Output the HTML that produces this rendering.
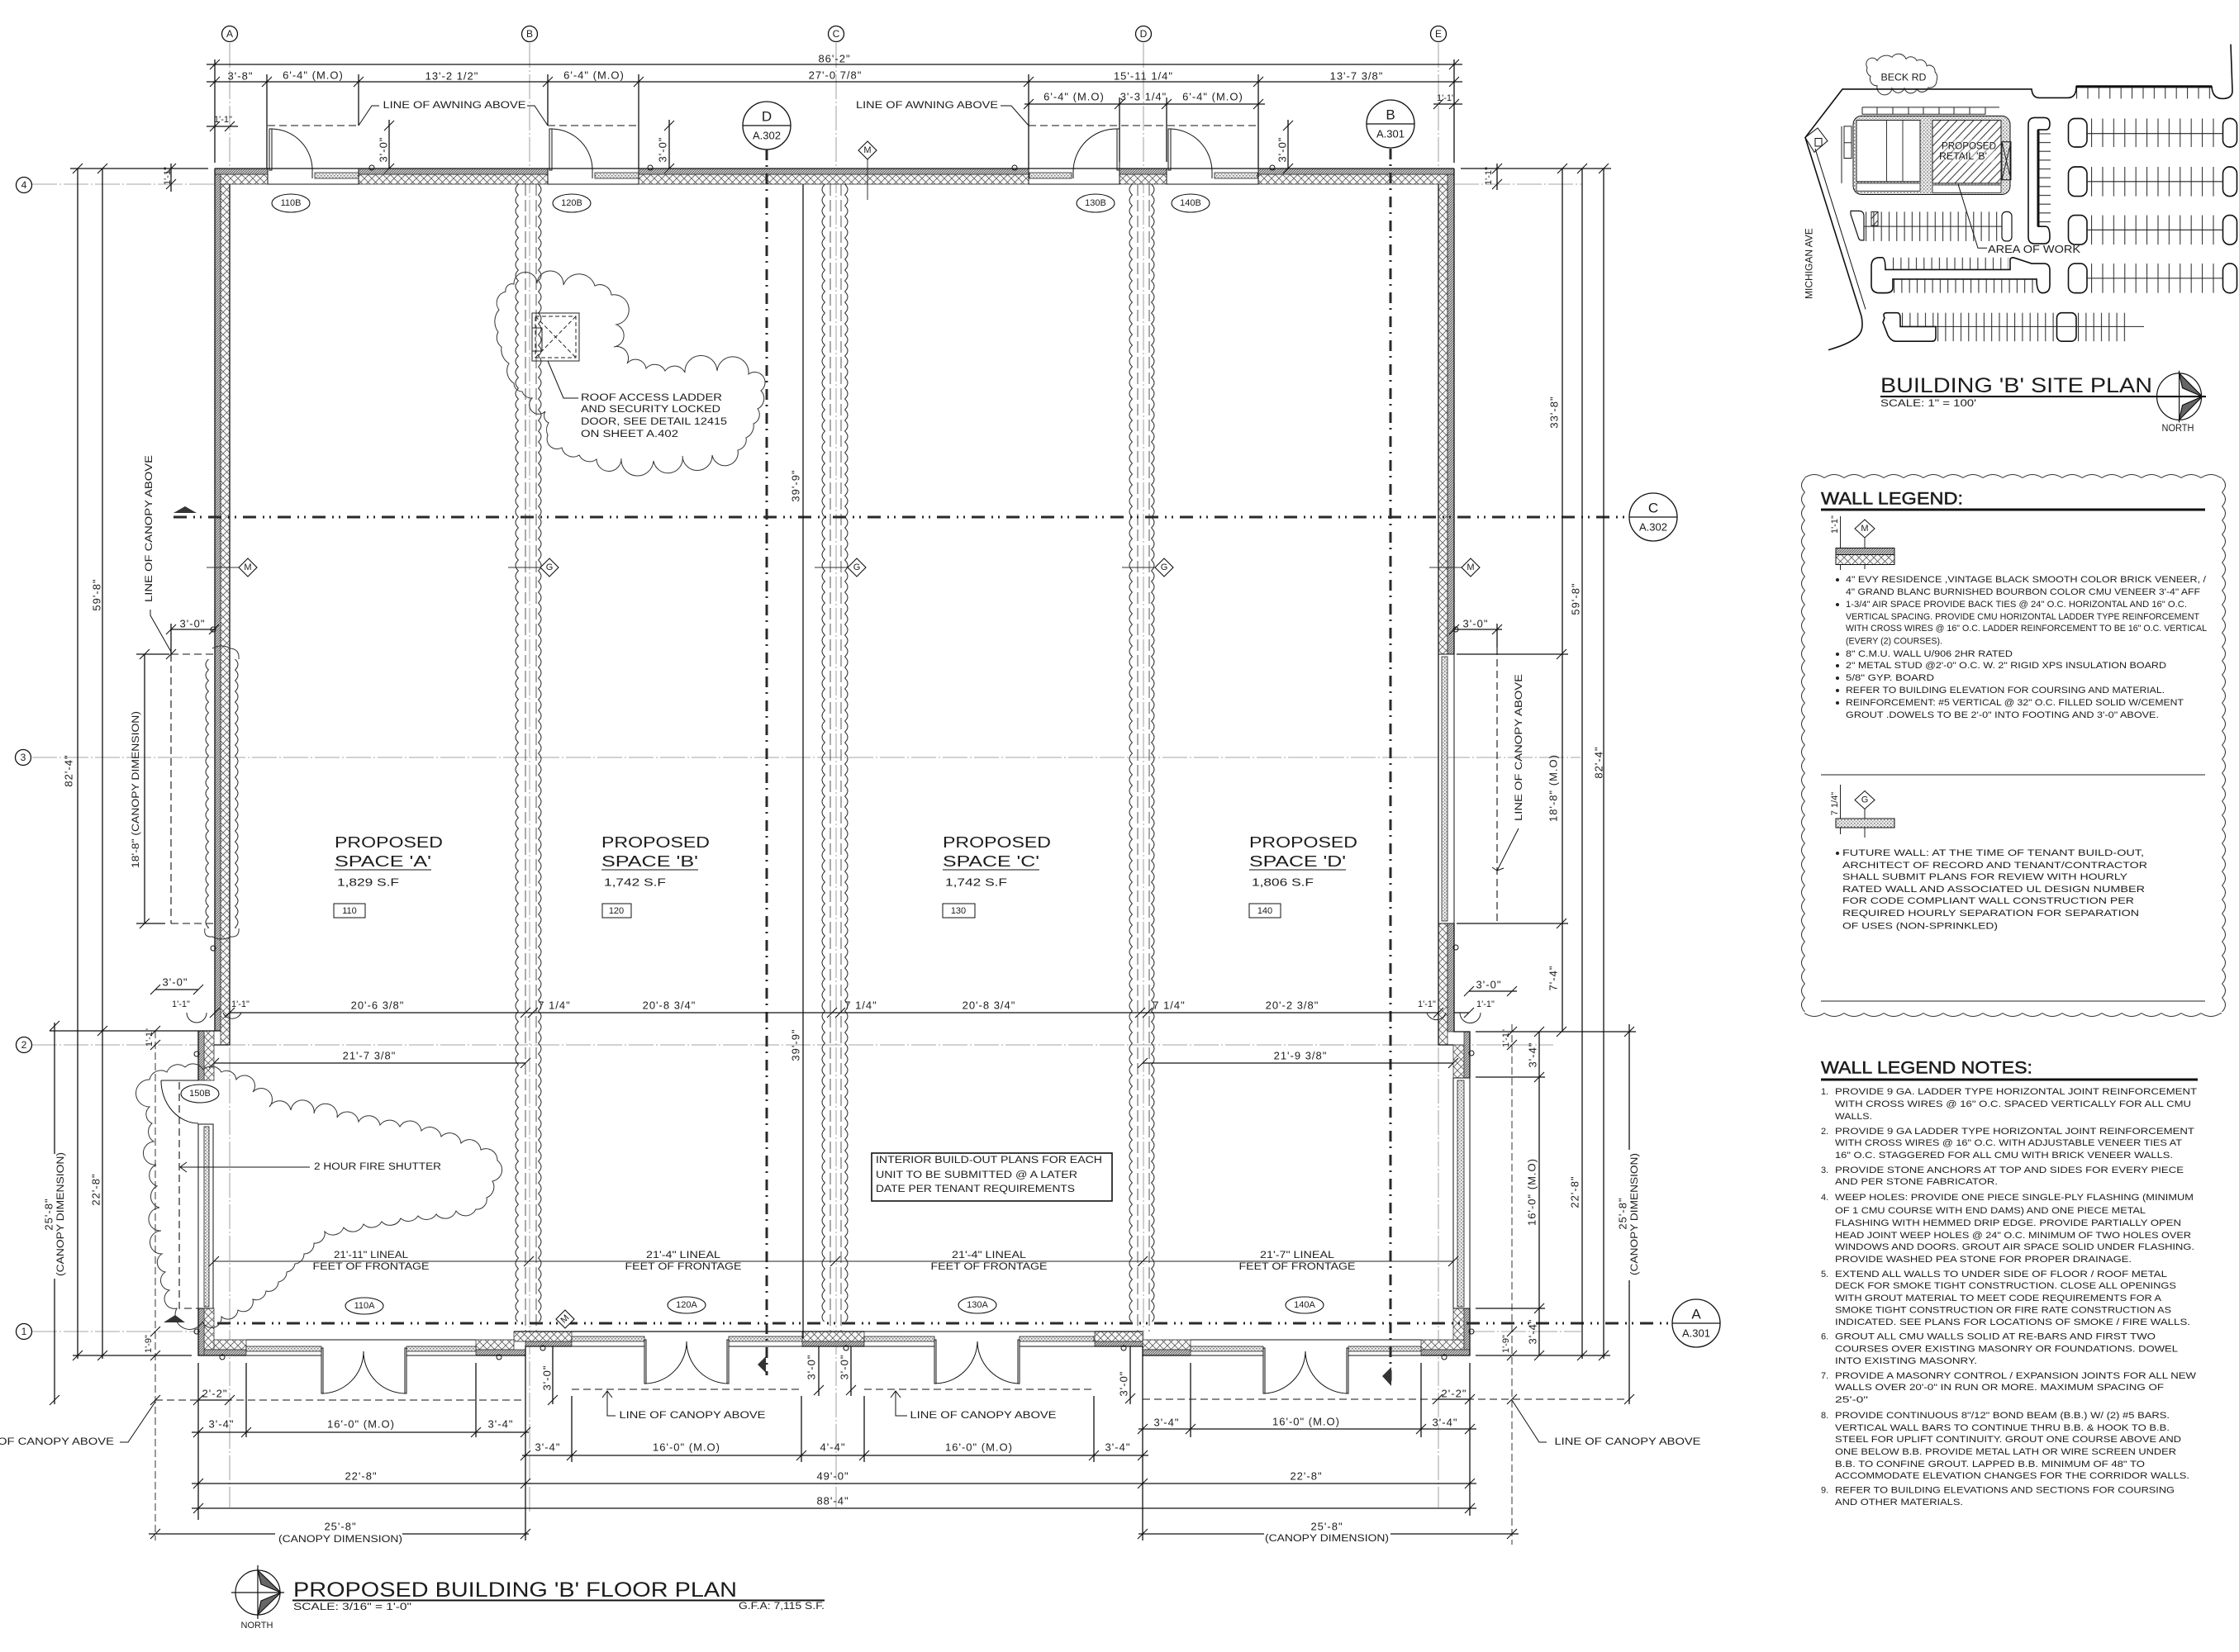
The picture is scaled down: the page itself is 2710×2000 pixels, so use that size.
<!DOCTYPE html>
<html lang="en"><head><meta charset="utf-8"><title>Proposed Building B Floor Plan</title>
<style>
html,body{margin:0;padding:0;background:#fff}
svg{display:block}
text{font-family:"Liberation Sans",sans-serif;fill:#1c1c1c;dominant-baseline:central}
.d{font-size:13px;letter-spacing:1px;text-anchor:middle}
.l{font-size:11.5px;text-anchor:middle}
.s{font-size:11.5px;text-anchor:start}
.g{font-size:11px;text-anchor:middle}
.n{font-size:11px;text-anchor:start}
.b{font-size:12px;text-anchor:middle}
.t{font-size:21px;stroke:#1c1c1c;stroke-width:.5}
.sp{font-size:18px;text-anchor:start}
</style></head><body>
<svg xmlns="http://www.w3.org/2000/svg" width="2710" height="2000" viewBox="0 0 2710 2000">
<defs>
<pattern id="cmu" width="9" height="9" patternUnits="userSpaceOnUse"><rect width="9" height="9" fill="#f6f6f6"/><path d="M0 0L9 9M9 0L0 9" stroke="#444" stroke-width=".7"/></pattern>
<pattern id="brk" width="3" height="3" patternUnits="userSpaceOnUse"><rect width="3" height="3" fill="#c8c8c8"/><path d="M0 3L3 0" stroke="#444" stroke-width=".7"/></pattern>
<pattern id="stp" width="4" height="4" patternUnits="userSpaceOnUse"><rect width="4" height="4" fill="#ececec"/><rect x="0" y="0" width="1.5" height="1.5" fill="#777"/><rect x="2" y="2" width="1.5" height="1.5" fill="#999"/></pattern>
<pattern id="hat" width="10" height="10" patternUnits="userSpaceOnUse"><path d="M0 10L10 0M-2 2L2 -2M8 12L12 8" stroke="#333" stroke-width="1"/></pattern>
<pattern id="sl" width="6" height="13" patternUnits="userSpaceOnUse"><path d="M5.5 0Q-1.5 6.5 5.5 13" fill="none" stroke="#222" stroke-width="1"/></pattern>
<pattern id="sr" width="6" height="13" patternUnits="userSpaceOnUse"><path d="M.5 0Q7.5 6.5 .5 13" fill="none" stroke="#222" stroke-width="1"/></pattern>
<pattern id="bl" width="7" height="17" patternUnits="userSpaceOnUse"><path d="M6.5 0Q-1.5 8.5 6.5 17" fill="none" stroke="#333" stroke-width="1"/></pattern>
<pattern id="br" width="7" height="17" patternUnits="userSpaceOnUse"><path d="M.5 0Q8.5 8.5 .5 17" fill="none" stroke="#333" stroke-width="1"/></pattern>
<pattern id="bt" width="24" height="6" patternUnits="userSpaceOnUse"><path d="M0 5.5Q12 -2.5 24 5.5" fill="none" stroke="#333" stroke-width="1"/></pattern>
<pattern id="bb" width="24" height="6" patternUnits="userSpaceOnUse"><path d="M0 .5Q12 8.5 24 .5" fill="none" stroke="#333" stroke-width="1"/></pattern>
<pattern id="v13" width="13.4" height="10" patternUnits="userSpaceOnUse"><path d="M.6 0V10" stroke="#222" stroke-width="1"/></pattern>
<pattern id="v9" width="9.3" height="10" patternUnits="userSpaceOnUse"><path d="M.6 0V10" stroke="#222" stroke-width="1"/></pattern>
<pattern id="h10" width="10" height="10.2" patternUnits="userSpaceOnUse"><path d="M0 .6H10" stroke="#222" stroke-width="1"/></pattern>
</defs>
<rect width="2710" height="2000" fill="#fff"/>

<!-- grid lines -->
<g fill="none" stroke="#888" stroke-width=".8" stroke-dasharray="30 3 2 3">
<path d="M278 52V1825M641 52V1830M1012 52V1825M1384 52V1640M1741 52V1825"/>
<path d="M39 223H260M1760 223H1915M39 917H1913M39 1265H1880M39 1612H240M1779 1612H1914"/>
</g>

<!-- walls -->
<path fill="url(#cmu)" stroke="#222" stroke-width=".7" d="M260 211H324V223H260ZM434 211H663V223H434ZM773 211H1245V223H773ZM1355 211H1412V223H1355ZM1523 211H1760V223H1523ZM267 223H278V1265H267ZM1741 223H1752V792H1741ZM1741 1118H1752V1265H1741ZM247 1248H259V1308H247ZM247 1584H259V1634H247ZM259 1622H298V1634H259ZM576 1622H622V1634H576ZM622 1612H692V1624H622ZM971 1612H1046V1624H971ZM1325 1612H1383V1624H1325ZM1383 1622H1441V1634H1383ZM1720 1622H1772V1634H1720ZM1759 1584H1772V1622H1759ZM1759 1265H1772V1305H1759Z"/>
<path fill="url(#brk)" stroke="#222" stroke-width=".7" d="M260 204H324V211H260ZM434 204H663V211H434ZM773 204H1245V211H773ZM1355 204H1412V211H1355ZM1523 204H1760V211H1523ZM260 211H267V1248H260ZM1752 211H1760V792H1752ZM1752 1118H1760V1249H1752ZM240 1248H247V1308H240ZM240 1584H247V1641H240ZM247 1634H298V1641H247ZM576 1634H636V1641H576ZM636 1624H692V1630H636ZM971 1624H1046V1630H971ZM1325 1624H1383V1630H1325ZM1383 1634H1441V1641H1383ZM1720 1634H1779V1641H1720ZM1772 1584H1779V1634H1772ZM1772 1249H1779V1305H1772Z"/>
<path fill="none" stroke="#111" stroke-width="1.3" d="M260 204H1760M260 204V1248M1760 204V792M1760 1118V1249H1779V1305M240 1248H267M240 1248V1308M240 1584V1641H298M576 1641H636V1630H692M622 1612H1046M1046 1630H971M1325 1630H1383V1641H1441M1325 1612H1383M1720 1641H1779V1584M278 223V1265H259M1741 223V1265H1759"/>

<!-- storefronts -->
<g fill="url(#stp)" stroke="#222" stroke-width=".8">
<rect x="381" y="209" width="53" height="7"/><rect x="720" y="209" width="53" height="7"/><rect x="1246" y="209" width="51" height="7"/><rect x="1470" y="209" width="52" height="7"/>
<rect x="1745" y="795" width="7" height="320"/><rect x="247" y="1364" width="6" height="218"/><rect x="1764" y="1308" width="8" height="274"/>
<rect x="298" y="1630" width="91" height="6"/><rect x="492" y="1630" width="84" height="6"/>
<rect x="692" y="1618" width="88" height="6"/><rect x="882" y="1618" width="89" height="6"/>
<rect x="1046" y="1618" width="85" height="6"/><rect x="1234" y="1618" width="90" height="6"/>
<rect x="1441" y="1630" width="88" height="6"/><rect x="1632" y="1630" width="88" height="6"/>
</g>
<g fill="none" stroke="#111" stroke-width="1">
<path d="M324 204H434V223H324ZM663 204H773V223H663ZM1245 204H1355V223H1245ZM1412 204H1523V223H1412ZM1741 792H1760V1118H1741ZM240 1361H258V1584H240ZM1759 1305H1779V1584H1759Z"/>
<path d="M298 1622H576M298 1641H389M492 1641H576M692 1612H780M882 1612H971M692 1630H780M882 1630H971M1046 1612H1325M1046 1630H1131M1234 1630H1325M1441 1622H1720M1441 1641H1529M1632 1641H1720"/>
<!-- single doors -->
<path d="M326 156H329V206H326ZM665 156H668V206H665ZM1352 156H1355V206H1352ZM1414 156H1417V206H1414Z"/>
<path d="M329 156A50 50 0 0 1 378 208V216M668 156A50 50 0 0 1 717 208V216M1352 156A52 52 0 0 0 1299 208V216M1417 156A52 52 0 0 1 1467 208V216"/>
<!-- double doors -->
<path d="M389 1632H391V1687H389ZM492 1632H490V1687H492ZM389 1687A51 51 0 0 0 440 1636M492 1687A51 51 0 0 1 440 1636"/>
<path d="M780 1622H782V1675H780ZM882 1622H880V1675H882ZM780 1675A51 51 0 0 0 831 1624M882 1675A51 51 0 0 1 831 1624"/>
<path d="M1131 1622H1133V1675H1131ZM1234 1622H1232V1675H1234ZM1131 1675A52 52 0 0 0 1183 1624M1234 1675A52 52 0 0 1 1183 1624"/>
<path d="M1529 1632H1531V1687H1529ZM1632 1632H1630V1687H1632ZM1529 1687A52 52 0 0 0 1580 1636M1632 1687A52 52 0 0 1 1580 1636"/>
<!-- shutter door -->
<path d="M195 1308H240M195 1308A46 52 0 0 0 240 1360"/>
<circle cx="450" cy="203" r="3"/><circle cx="787" cy="203" r="3"/><circle cx="1228" cy="203" r="3"/><circle cx="1540" cy="203" r="3"/><circle cx="238" cy="1276" r="3"/><circle cx="238" cy="1612" r="3"/><circle cx="269" cy="1643" r="3"/><circle cx="604" cy="1643" r="3"/><circle cx="657" cy="1632" r="3"/><circle cx="1024" cy="1632" r="3"/><circle cx="1360" cy="1632" r="3"/><circle cx="1748" cy="1643" r="3"/><circle cx="1781" cy="1275" r="3"/><circle cx="1781" cy="1612" r="3"/><circle cx="258" cy="762" r="3"/><circle cx="258" cy="1148" r="3"/><circle cx="1762" cy="762" r="3"/><circle cx="1762" cy="1147" r="3"/>
</g>

<!-- interior scalloped walls -->
<g transform="translate(622,223)"><rect width="6" height="1377" fill="url(#sl)"/></g>
<g transform="translate(651,223)"><rect width="6" height="1377" fill="url(#sr)"/></g>
<g transform="translate(993,223)"><rect width="6" height="1377" fill="url(#sl)"/></g>
<g transform="translate(1022,223)"><rect width="6" height="1377" fill="url(#sr)"/></g>
<g transform="translate(1365,223)"><rect width="6" height="1377" fill="url(#sl)"/></g>
<g transform="translate(1393,223)"><rect width="6" height="1377" fill="url(#sr)"/></g>
<path fill="none" stroke="#444" stroke-width=".9" stroke-dasharray="14 5" d="M636 223V1612M649 223V1612M1005 223V1612M1018 223V1612M1377 223V1612M1391 223V1612"/>

<!-- section lines -->
<g fill="none" stroke="#2a2a2a" stroke-width="3">
<path stroke-dasharray="13 6 2 8" d="M928 181V1665M1683 180V1678"/>
<path stroke-dasharray="16 8 2 6 2 8" d="M210 626H1972M263 1602H2024"/>
</g>
<path fill="#333" d="M224 613L238 621H210ZM198 1601L212 1592L224 1601ZM917 1652L927 1642V1662ZM1673 1666L1684 1655V1678Z"/>

<!-- dimension lines -->
<g fill="none" stroke="#111" stroke-width="1.3">
<path d="M250 78H1770M250 99H1770M1240 126H1531M1735 126H1770M250 153H288"/>
<path d="M260 72V197M323 90V204M434 90V152M663 90V152M773 90V204M1245 90V204M1355 118V196M1412 118V196M1523 90V204M1760 72V197"/>
<path d="M471 145V204M810 145V204M1559 145V204"/>
<path d="M85 204H252M94 204V1645M124 204V1645M207 198V232"/>
<path d="M1768 204H1950M1891 204V1249M1915 204V1645M1941 204V1645M1812 198V230"/>
<path d="M972 223V1620M278 1226H1741M1778 1226H1760"/>
<path d="M259 1287H636M1383 1287H1759"/>
<path d="M188 1198H240M60 1248H240M66 1238V1397M66 1548V1700M88 1641H232M1786 1249H1980M1972 1240V1392M1972 1550V1700M1863 1249V1641M1786 1641H1949M1778 1200H1836M1786 1304H1870M1786 1584H1870"/>
<path d="M232 1734H640M632 1762H1390M1378 1730H1787M232 1796H1787M232 1826H1787M180 1857H333M487 1857H640M1378 1857H1530M1683 1857H1838"/>
<path d="M240 1650V1840M298 1650V1740M576 1650V1740M636 1641V1865M692 1690V1770M970 1690V1770M1046 1690V1770M1324 1690V1770M1383 1641V1865M1441 1650V1740M1720 1650V1740M1779 1650V1835"/>
<path d="M207 762H259M207 755V792M175 792V1118M165 792H205M165 1118H200M1760 762H1818M1812 755V784M1763 792H1898M1763 1118H1898"/>
<path d="M991 1630V1690M1030 1630V1690M1368 1630V1700M669 1630V1700"/>
<path d="M240 1695H278M1740 1694H1779"/>
</g>
<g fill="none" stroke="#222" stroke-width=".9">
<path d="M259 1527H1759"/>
<path stroke-dasharray="9 4" d="M188 1248V1865M1830 1240V1870"/>
</g>
<path fill="none" stroke="#111" stroke-width="1.1" d="M254 84l12-12M1754 84l12-12M254 105l12-12M317 105l12-12M428 105l12-12M657 105l12-12M767 105l12-12M1239 105l12-12M1517 105l12-12M1754 105l12-12M1239 132l12-12M1349 132l12-12M1406 132l12-12M1517 132l12-12M1735 132l12-12M1754 132l12-12M254 159l12-12M272 159l12-12M465 158l12-12M804 158l12-12M1553 158l12-12M465 210l12-12M804 210l12-12M1553 210l12-12M88 210l12-12M118 210l12-12M201 210l12-12M201 229l12-12M88 1647l12-12M118 1254l12-12M118 1647l12-12M182 1254l12-12M182 1271l12-12M182 1618l12-12M182 1647l12-12M60 1248l12-12M60 1701l12-12M182 1701l12-12M169 798l12-12M169 1124l12-12M201 768l12-12M253 768l12-12M201 798l12-12M182 1204l12-12M234 1204l12-12M254 1232l12-12M272 1232l12-12M630 1232l12-12M639 1232l12-12M1001 1232l12-12M1011 1232l12-12M1374 1232l12-12M1383 1232l12-12M1735 1232l12-12M1772 1232l12-12M253 1293l12-12M630 1293l12-12M1377 1293l12-12M1753 1293l12-12M253 1533l12-12M634 1533l12-12M1005 1533l12-12M1377 1533l12-12M1753 1533l12-12M234 1701l12-12M272 1701l12-12M1734 1700l12-12M1773 1700l12-12M1824 1700l12-12M1966 1700l12-12M234 1740l12-12M292 1740l12-12M570 1740l12-12M630 1740l12-12M630 1768l12-12M686 1768l12-12M964 1768l12-12M1040 1768l12-12M1318 1768l12-12M1377 1768l12-12M1377 1736l12-12M1435 1736l12-12M1714 1736l12-12M1773 1736l12-12M234 1802l12-12M630 1802l12-12M1377 1802l12-12M1773 1802l12-12M234 1832l12-12M1773 1832l12-12M182 1863l12-12M630 1863l12-12M1377 1863l12-12M1824 1863l12-12M1806 210l12-12M1806 229l12-12M1885 210l12-12M1909 210l12-12M1935 210l12-12M1884 798l12-12M1884 1124l12-12M1884 1255l12-12M1909 1647l12-12M1935 1647l12-12M1857 1255l12-12M1857 1310l12-12M1857 1590l12-12M1857 1647l12-12M1824 1255l12-12M1824 1271l12-12M1824 1618l12-12M1824 1647l12-12M1966 1255l12-12M1806 768l12-12M1754 768l12-12M1772 1206l12-12M1824 1206l12-12M985 1689l12-12M1024 1689l12-12M1362 1699l12-12M663 1701l12-12"/>

<!-- canopy and awning dashed lines -->
<g fill="none" stroke="#111" stroke-width="1.1" stroke-dasharray="9 5">
<path d="M324 152H434M663 152H773M1245 152H1523"/>
<path d="M207 792V1118M207 792H259M207 1118H259M1812 784V1118"/>
<path d="M188 1695H636M692 1682H970M1046 1682H1324M1383 1694H1972"/>
<path d="M217 1310V1584H240"/>
</g>

<!-- leaders -->
<g fill="none" stroke="#111" stroke-width="1">
<path d="M459 128H450L434 152M638 128H647L663 152M1211 128H1224L1245 152"/>
<path d="M182 738V745L207 789M1838 1003L1812 1054M145 1746H155L188 1697M1872 1746H1863L1830 1695"/>
<path d="M745 1714H735V1685M729 1692L735 1684L741 1692M1098 1714H1084V1685M1078 1692L1084 1684L1090 1692"/>
<path d="M375 1413H219M226 1407L218 1413L226 1419"/>
<path d="M663 437L682 482H700"/>
<path d="M1806 1050L1812 1054L1820 1051"/>
</g>

<!-- clouds -->
<g fill="none" stroke="#333" stroke-width="1">
<path d="M622 344A14 14 0 0 1 650 343A16 16 0 0 1 682 345A20 20 0 0 1 720 346A14 14 0 0 1 740 357A18 18 0 0 1 746 393A14 14 0 0 1 743 420A14 14 0 0 1 759 440A13 13 0 0 1 782 446A14 14 0 0 1 805 449A14 14 0 0 1 829 451A15 15 0 0 1 868 449A14 14 0 0 1 906 453A12 12 0 0 1 921 473A14 14 0 0 1 917 495A12 12 0 0 1 912 513A16 16 0 0 1 903 530A13 13 0 0 1 893 545A14 14 0 0 1 862 551A14 14 0 0 1 826 552A14 14 0 0 1 791 558A14 14 0 0 1 752 555A14 14 0 0 1 722 556A14 14 0 0 1 701 551A14 14 0 0 1 680 542A12 12 0 0 1 663 527A16 16 0 0 1 664 512A10 10 0 0 1 660 498A10 10 0 0 1 644 482A12 12 0 0 1 632 474A10 10 0 0 1 622 464A18 18 0 0 1 616 440A20 20 0 0 1 607 420A14 14 0 0 1 603 402A22 22 0 0 1 604 375A14 14 0 0 1 612 353A8 8 0 0 1 622 344Z"/>
<path d="M181 1307A14 14 0 0 1 202 1298A14 14 0 0 1 224 1292A14 14 0 0 1 246 1295A14 14 0 0 1 268 1298A12 12 0 0 1 286 1307A12 12 0 0 1 306 1322A12 12 0 0 1 326 1340A14 14 0 0 1 352 1344A14 14 0 0 1 380 1348A14 14 0 0 1 408 1353A14 14 0 0 1 434 1358A14 14 0 0 1 460 1362A14 14 0 0 1 484 1364A14 14 0 0 1 510 1369A14 14 0 0 1 534 1376A14 14 0 0 1 558 1384A14 14 0 0 1 582 1392A14 14 0 0 1 602 1405A14 14 0 0 1 596 1430A14 14 0 0 1 589 1450A12 12 0 0 1 576 1464A14 14 0 0 1 552 1466A14 14 0 0 1 528 1470A14 14 0 0 1 506 1472A14 14 0 0 1 485 1475A14 14 0 0 1 462 1479A14 14 0 0 1 440 1482A14 14 0 0 1 416 1486A14 14 0 0 1 393 1491A12 12 0 0 1 380 1505A12 12 0 0 1 368 1518A12 12 0 0 1 357 1530A12 12 0 0 1 347 1540A12 12 0 0 1 337 1552A12 12 0 0 1 322 1563A12 12 0 0 1 306 1573A12 12 0 0 1 288 1586A12 12 0 0 1 268 1594A12 12 0 0 1 245 1600A14 14 0 0 1 214 1584A12 12 0 0 1 205 1562A12 12 0 0 1 200 1540A12 12 0 0 1 196 1518A14 14 0 0 1 195 1490A14 14 0 0 1 193 1462A14 14 0 0 1 190 1436A14 14 0 0 1 189 1410A14 14 0 0 1 186 1382A14 14 0 0 1 184 1360A12 12 0 0 1 181 1340A16 16 0 0 1 181 1307Z"/>
<path d="M257 785Q268 779 279 785Q290 786 289 798M289 1124Q290 1135 279 1134Q268 1140 257 1134Q246 1135 248 1124"/>
</g>
<g transform="translate(247,798)"><rect width="6" height="326" fill="url(#sl)"/></g>
<g transform="translate(284,798)"><rect width="6" height="326" fill="url(#sr)"/></g>

<!-- roof hatch -->
<g fill="none" stroke="#222" stroke-width="1">
<rect x="644" y="379" width="57" height="58"/>
<rect x="648" y="383" width="49" height="50" stroke-dasharray="5 3"/>
<path stroke-dasharray="5 3" d="M648 383L697 433M697 383L648 433"/>
<rect x="644" y="397" width="12" height="28"/>
</g>

<!-- bubbles -->
<g fill="#fff" stroke="#111" stroke-width="1.3">
<circle cx="278" cy="41" r="9.5"/><circle cx="641" cy="41" r="9.5"/><circle cx="1012" cy="41" r="9.5"/><circle cx="1384" cy="41" r="9.5"/><circle cx="1741" cy="41" r="9.5"/>
<circle cx="29" cy="224" r="9.5"/><circle cx="28" cy="917" r="9.5"/><circle cx="29" cy="1265" r="9.5"/><circle cx="29" cy="1612" r="9.5"/>
<circle cx="928" cy="152" r="29"/><circle cx="1683" cy="150" r="29"/><circle cx="2001" cy="626" r="29"/><circle cx="2053" cy="1602" r="29"/>
</g>
<path fill="none" stroke="#111" stroke-width="1.2" d="M899 152H957M1654 150H1712M1972 626H2030M2024 1602H2082"/>
<g class="b">
<text class="b" x="278" y="41">A</text><text class="b" x="641" y="41">B</text><text class="b" x="1012" y="41">C</text><text class="b" x="1384" y="41">D</text><text class="b" x="1741" y="41">E</text>
<text class="b" x="29" y="224">4</text><text class="b" x="28" y="917">3</text><text class="b" x="29" y="1265">2</text><text class="b" x="29" y="1612">1</text>
</g>
<text class="b" style="font-size:17px" x="928" y="141">D</text><text class="b" style="font-size:13px" x="928" y="164">A.302</text>
<text class="b" style="font-size:17px" x="1683" y="139">B</text><text class="b" style="font-size:13px" x="1683" y="162">A.301</text>
<text class="b" style="font-size:17px" x="2001" y="615">C</text><text class="b" style="font-size:13px" x="2001" y="638">A.302</text>
<text class="b" style="font-size:17px" x="2053" y="1591">A</text><text class="b" style="font-size:13px" x="2053" y="1614">A.301</text>

<!-- door tags -->
<g fill="#fff" stroke="#111" stroke-width="1.1">
<ellipse cx="352" cy="246" rx="23" ry="11"/><ellipse cx="692" cy="246" rx="23" ry="11"/><ellipse cx="1326" cy="246" rx="23" ry="11"/><ellipse cx="1441" cy="246" rx="23" ry="11"/><ellipse cx="242" cy="1324" rx="23" ry="11"/>
<ellipse cx="441" cy="1581" rx="23" ry="10"/><ellipse cx="831" cy="1580" rx="23" ry="10"/><ellipse cx="1183" cy="1580" rx="23" ry="10"/><ellipse cx="1579" cy="1580" rx="23" ry="10"/>
</g>
<text class="g" x="352" y="246">110B</text><text class="g" x="692" y="246">120B</text><text class="g" x="1326" y="246">130B</text><text class="g" x="1441" y="246">140B</text><text class="g" x="242" y="1324">150B</text>
<text class="g" x="441" y="1581">110A</text><text class="g" x="831" y="1580">120A</text><text class="g" x="1183" y="1580">130A</text><text class="g" x="1579" y="1580">140A</text>

<!-- wall type diamonds -->
<path fill="none" stroke="#333" stroke-width="1" d="M250 687H289M615 687H654M986 687H1026M1358 687H1398M1730 687H1769M1050 193V242"/>
<path fill="#fff" stroke="#111" stroke-width="1.1" d="M300 676L311 687L300 698L289 687ZM665 676L676 687L665 698L654 687ZM1037 676L1048 687L1037 698L1026 687ZM1409 676L1420 687L1409 698L1398 687ZM1780 676L1791 687L1780 698L1769 687ZM1050 171L1061 182L1050 193L1039 182ZM684 1586L695 1597L684 1608L673 1597Z"/>
<text class="g" x="300" y="687">M</text><text class="g" x="665" y="687">G</text><text class="g" x="1037" y="687">G</text><text class="g" x="1409" y="687">G</text><text class="g" x="1780" y="687">M</text><text class="g" x="1050" y="182">M</text><text class="g" x="684" y="1597" transform="rotate(-45 684 1597)">M</text>

<!-- dimension text: top -->
<text class="d" x="1010" y="71">86'-2"</text>
<text class="d" x="291" y="92">3'-8"</text><text class="d" x="379" y="91">6'-4" (M.O)</text><text class="d" x="547" y="92">13'-2 1/2"</text><text class="d" x="719" y="91">6'-4" (M.O)</text><text class="d" x="1011" y="91">27'-0 7/8"</text><text class="d" x="1384" y="92">15'-11 1/4"</text><text class="d" x="1642" y="92">13'-7 3/8"</text>
<text class="d" x="1300" y="117">6'-4" (M.O)</text><text class="d" x="1384" y="117">3'-3 1/4"</text><text class="d" x="1468" y="117">6'-4" (M.O)</text>
<text class="g" x="270" y="145">1'-1"</text><text class="g" x="1750" y="119">1'-1"</text>
<text class="d" transform="rotate(-90 464 181)" x="464" y="181">3'-0"</text><text class="d" transform="rotate(-90 802 181)" x="802" y="181">3'-0"</text><text class="d" transform="rotate(-90 1552 181)" x="1552" y="181">3'-0"</text>
<text class="g" transform="rotate(-90 203 213)" x="203" y="213">1'-1"</text><text class="g" transform="rotate(-90 1802 213)" x="1802" y="213">1'-1"</text>
<text class="l" x="550" y="128" textLength="173" lengthAdjust="spacingAndGlyphs">LINE OF AWNING ABOVE</text>
<text class="l" x="1122" y="128" textLength="172" lengthAdjust="spacingAndGlyphs">LINE OF AWNING ABOVE</text>

<!-- vertical dimension text -->
<text class="d" transform="rotate(-90 83 933)" x="83" y="933">82'-4"</text><text class="d" transform="rotate(-90 117 720)" x="117" y="720">59'-8"</text>
<text class="d" transform="rotate(-90 963 588)" x="963" y="588">39'-9"</text><text class="d" transform="rotate(-90 963 1265)" x="963" y="1265">39'-9"</text>
<text class="d" transform="rotate(-90 1881 499)" x="1881" y="499">33'-8"</text><text class="d" transform="rotate(-90 1907 725)" x="1907" y="725">59'-8"</text><text class="d" transform="rotate(-90 1935 923)" x="1935" y="923">82'-4"</text>
<text class="d" transform="rotate(-90 1880 954)" x="1880" y="954">18'-8" (M.O)</text><text class="d" transform="rotate(-90 1880 1184)" x="1880" y="1184">7'-4"</text>
<text class="d" transform="rotate(-90 116 1440)" x="116" y="1440">22'-8"</text><text class="d" transform="rotate(-90 59 1470)" x="59" y="1470">25'-8"</text>
<text class="l" transform="rotate(-90 74 1470)" x="74" y="1470" textLength="150" lengthAdjust="spacingAndGlyphs">(CANOPY DIMENSION)</text>
<text class="d" transform="rotate(-90 1906 1443)" x="1906" y="1443">22'-8"</text><text class="d" transform="rotate(-90 1854 1443)" x="1854" y="1443">16'-0" (M.O)</text>
<text class="d" transform="rotate(-90 1964 1469)" x="1964" y="1469">25'-8"</text>
<text class="l" transform="rotate(-90 1979 1470)" x="1979" y="1470" textLength="148" lengthAdjust="spacingAndGlyphs">(CANOPY DIMENSION)</text>
<text class="d" transform="rotate(-90 1855 1277)" x="1855" y="1277">3'-4"</text><text class="d" transform="rotate(-90 1855 1612)" x="1855" y="1612">3'-4"</text>
<text class="g" transform="rotate(-90 181 1256)" x="181" y="1256">1'-1"</text><text class="g" transform="rotate(-90 180 1627)" x="180" y="1627">1'-9"</text><text class="g" transform="rotate(-90 1823 1257)" x="1823" y="1257">1'-1"</text><text class="g" transform="rotate(-90 1823 1627)" x="1823" y="1627">1'-9"</text>
<text class="l" transform="rotate(-90 165 956)" x="165" y="956" textLength="190" lengthAdjust="spacingAndGlyphs">18'-8" (CANOPY DIMENSION)</text>
<text class="l" transform="rotate(-90 181 640)" x="181" y="640" textLength="178" lengthAdjust="spacingAndGlyphs">LINE OF CANOPY ABOVE</text>
<text class="l" transform="rotate(-90 1839 905)" x="1839" y="905" textLength="178" lengthAdjust="spacingAndGlyphs">LINE OF CANOPY ABOVE</text>
<text class="d" x="233" y="755">3'-0"</text><text class="d" x="1786" y="755">3'-0"</text><text class="d" x="212" y="1189">3'-0"</text><text class="d" x="1802" y="1192">3'-0"</text>

<!-- mid dims -->
<text class="g" x="219" y="1216">1'-1"</text><text class="g" x="291" y="1216">1'-1"</text><text class="d" x="457" y="1217">20'-6 3/8"</text><text class="d" x="671" y="1217">7 1/4"</text><text class="d" x="810" y="1217">20'-8 3/4"</text><text class="d" x="1042" y="1217">7 1/4"</text><text class="d" x="1197" y="1217">20'-8 3/4"</text><text class="d" x="1415" y="1217">7 1/4"</text><text class="d" x="1564" y="1217">20'-2 3/8"</text><text class="g" x="1727" y="1216">1'-1"</text><text class="g" x="1798" y="1216">1'-1"</text>
<text class="d" x="447" y="1278">21'-7 3/8"</text><text class="d" x="1574" y="1278">21'-9 3/8"</text>
<path fill="none" stroke="#222" stroke-width="1" d="M226 1226A12 12 0 0 0 250 1226M270 1226A12 12 0 0 0 292 1226M1727 1226A12 12 0 0 0 1750 1226M1767 1226A12 12 0 0 0 1792 1226"/>
<text class="l" x="449" y="1520" textLength="90" lengthAdjust="spacingAndGlyphs">21'-11" LINEAL</text><text class="l" x="449" y="1534" textLength="141" lengthAdjust="spacingAndGlyphs">FEET OF FRONTAGE</text>
<text class="l" x="827" y="1520" textLength="90" lengthAdjust="spacingAndGlyphs">21'-4" LINEAL</text><text class="l" x="827" y="1534" textLength="141" lengthAdjust="spacingAndGlyphs">FEET OF FRONTAGE</text>
<text class="l" x="1197" y="1520" textLength="90" lengthAdjust="spacingAndGlyphs">21'-4" LINEAL</text><text class="l" x="1197" y="1534" textLength="141" lengthAdjust="spacingAndGlyphs">FEET OF FRONTAGE</text>
<text class="l" x="1570" y="1520" textLength="90" lengthAdjust="spacingAndGlyphs">21'-7" LINEAL</text><text class="l" x="1570" y="1534" textLength="141" lengthAdjust="spacingAndGlyphs">FEET OF FRONTAGE</text>
<text class="l" x="457" y="1413" textLength="154" lengthAdjust="spacingAndGlyphs">2 HOUR FIRE SHUTTER</text>

<!-- bottom dims -->
<text class="d" x="260" y="1687">2'-2"</text><text class="d" x="1760" y="1687">2'-2"</text>
<text class="d" x="268" y="1724">3'-4"</text><text class="d" x="437" y="1724">16'-0" (M.O)</text><text class="d" x="606" y="1724">3'-4"</text>
<text class="d" x="663" y="1752">3'-4"</text><text class="d" x="831" y="1752">16'-0" (M.O)</text><text class="d" x="1008" y="1752">4'-4"</text><text class="d" x="1185" y="1752">16'-0" (M.O)</text><text class="d" x="1353" y="1752">3'-4"</text>
<text class="d" x="1412" y="1722">3'-4"</text><text class="d" x="1581" y="1721">16'-0" (M.O)</text><text class="d" x="1749" y="1722">3'-4"</text>
<text class="d" x="437" y="1787">22'-8"</text><text class="d" x="1008" y="1787">49'-0"</text><text class="d" x="1581" y="1787">22'-8"</text>
<text class="d" x="1008" y="1817">88'-4"</text>
<text class="d" x="412" y="1848">25'-8"</text><text class="l" x="412" y="1864" textLength="150" lengthAdjust="spacingAndGlyphs">(CANOPY DIMENSION)</text>
<text class="d" x="1606" y="1848">25'-8"</text><text class="l" x="1606" y="1863" textLength="150" lengthAdjust="spacingAndGlyphs">(CANOPY DIMENSION)</text>
<text class="d" transform="rotate(-90 662 1668)" x="662" y="1668">3'-0"</text><text class="d" transform="rotate(-90 982 1655)" x="982" y="1655">3'-0"</text><text class="d" transform="rotate(-90 1022 1655)" x="1022" y="1655">3'-0"</text><text class="d" transform="rotate(-90 1360 1675)" x="1360" y="1675">3'-0"</text>
<text class="l" style="text-anchor:end" x="138" y="1746" textLength="178" lengthAdjust="spacingAndGlyphs">LINE OF CANOPY ABOVE</text>
<text class="l" x="838" y="1714" textLength="177" lengthAdjust="spacingAndGlyphs">LINE OF CANOPY ABOVE</text>
<text class="l" x="1190" y="1714" textLength="177" lengthAdjust="spacingAndGlyphs">LINE OF CANOPY ABOVE</text>
<text class="l" x="1970" y="1746" textLength="177" lengthAdjust="spacingAndGlyphs">LINE OF CANOPY ABOVE</text>

<!-- roof note -->
<text class="s" x="703" y="482" textLength="171" lengthAdjust="spacingAndGlyphs">ROOF ACCESS LADDER</text>
<text class="s" x="703" y="496" textLength="169" lengthAdjust="spacingAndGlyphs">AND SECURITY LOCKED</text>
<text class="s" x="703" y="511" textLength="177" lengthAdjust="spacingAndGlyphs">DOOR, SEE DETAIL 12415</text>
<text class="s" x="703" y="526" textLength="118" lengthAdjust="spacingAndGlyphs">ON SHEET A.402</text>

<!-- spaces -->
<text class="sp" x="405" y="1020" textLength="131" lengthAdjust="spacingAndGlyphs">PROPOSED</text><text class="sp" x="405" y="1043" textLength="117" lengthAdjust="spacingAndGlyphs">SPACE 'A'</text><text class="s" style="font-size:13px" x="408" y="1068" textLength="75" lengthAdjust="spacingAndGlyphs">1,829 S.F</text><rect x="404" y="1094" width="38" height="17" fill="none" stroke="#111"/><text class="g" x="423" y="1103">110</text>
<text class="sp" x="728" y="1020" textLength="131" lengthAdjust="spacingAndGlyphs">PROPOSED</text><text class="sp" x="728" y="1043" textLength="117" lengthAdjust="spacingAndGlyphs">SPACE 'B'</text><text class="s" style="font-size:13px" x="731" y="1068" textLength="75" lengthAdjust="spacingAndGlyphs">1,742 S.F</text><rect x="729" y="1094" width="35" height="17" fill="none" stroke="#111"/><text class="g" x="746" y="1103">120</text>
<text class="sp" x="1141" y="1020" textLength="131" lengthAdjust="spacingAndGlyphs">PROPOSED</text><text class="sp" x="1141" y="1043" textLength="117" lengthAdjust="spacingAndGlyphs">SPACE 'C'</text><text class="s" style="font-size:13px" x="1144" y="1068" textLength="75" lengthAdjust="spacingAndGlyphs">1,742 S.F</text><rect x="1141" y="1094" width="39" height="17" fill="none" stroke="#111"/><text class="g" x="1160" y="1103">130</text>
<text class="sp" x="1512" y="1020" textLength="131" lengthAdjust="spacingAndGlyphs">PROPOSED</text><text class="sp" x="1512" y="1043" textLength="117" lengthAdjust="spacingAndGlyphs">SPACE 'D'</text><text class="s" style="font-size:13px" x="1515" y="1068" textLength="75" lengthAdjust="spacingAndGlyphs">1,806 S.F</text><rect x="1512" y="1094" width="38" height="17" fill="none" stroke="#111"/><text class="g" x="1531" y="1103">140</text>
<path fill="none" stroke="#111" d="M405 1053H522M728 1053H845M1141 1053H1258M1512 1053H1629"/>

<!-- interior note -->
<rect x="1055" y="1396" width="291" height="58" fill="none" stroke="#111" stroke-width="1.6"/>
<text class="s" x="1060" y="1405" textLength="274" lengthAdjust="spacingAndGlyphs">INTERIOR BUILD-OUT PLANS FOR EACH</text>
<text class="s" x="1060" y="1423" textLength="244" lengthAdjust="spacingAndGlyphs">UNIT TO BE SUBMITTED @ A LATER</text>
<text class="s" x="1060" y="1440" textLength="241" lengthAdjust="spacingAndGlyphs">DATE PER TENANT REQUIREMENTS</text>

<!-- plan title -->
<g transform="translate(312,1928)" fill="none" stroke="#111" stroke-width="1.2">
<circle r="27"/><path d="M-32 0H32M0 -33V32"/><path fill="#666" d="M0 -27L28 0L4 -10ZM0 27L28 0L4 10Z"/>
</g>
<text class="g" x="311" y="1968">NORTH</text>
<text style="font-size:25px;text-anchor:start" x="355" y="1925" textLength="537" lengthAdjust="spacingAndGlyphs">PROPOSED BUILDING 'B' FLOOR PLAN</text>
<path stroke="#111" stroke-width="2" d="M354 1937.5H998"/>
<text class="s" x="355" y="1946" textLength="143" lengthAdjust="spacingAndGlyphs">SCALE: 3/16" = 1'-0"</text>
<text class="s" x="894" y="1945" textLength="104" lengthAdjust="spacingAndGlyphs">G.F.A: 7,115 S.F.</text>

<!-- SITE PLAN -->
<g transform="matrix(1 0 0 1.0453 0 -1.81)">
<g fill="none" stroke="#333" stroke-width="1">
<path d="M2272 72A13 13 0 0 1 2290 68A10 10 0 0 1 2307 70A8 8 0 0 1 2320 72A8 8 0 0 1 2332 78A7 7 0 0 1 2342 85A9 9 0 0 1 2344 95A8 8 0 0 1 2334 103A8 8 0 0 1 2320 105A8 8 0 0 1 2305 104A8 8 0 0 1 2290 104A9 9 0 0 1 2272 101A8 8 0 0 1 2264 90A8 8 0 0 1 2260 80A7 7 0 0 1 2272 72Z"/>
</g>
<g fill="none" stroke="#111" stroke-width="1.6">
<path d="M2213 407Q2235 401 2245 394Q2254 388 2254 378Q2254 370 2252 365L2185 161L2230 105H2459Q2460 115 2468 115H2503Q2513 115 2513 102H2677Q2678 116 2690 116Q2702 116 2702 107L2700 53"/>
<path d="M2197 174L2258 360" stroke-width="1"/>
<path stroke-width="1" d="M2185 161L2200 150L2212 165L2196 178Z"/>
<rect x="2197" y="162" width="8" height="9" stroke-width="1"/>
<path stroke-width="3" d="M2513 102H2677"/>
<rect x="2503.5" y="139" width="22.5" height="33" rx="8"/><rect x="2690.5" y="139" width="17" height="33" rx="8"/>
<rect x="2503.5" y="195" width="22.5" height="34" rx="8"/><rect x="2690.5" y="195" width="17" height="34" rx="8"/>
<rect x="2503.5" y="251" width="22.5" height="34" rx="8"/><rect x="2690.5" y="251" width="17" height="34" rx="8"/>
<rect x="2503.5" y="307" width="22.5" height="34" rx="8"/><rect x="2690.5" y="307" width="17" height="34" rx="8"/>
<path d="M2467 152H2476Q2481 152 2481 145Q2481 138 2474 138H2463Q2455 138 2455 146V276Q2455 284 2463 284H2474Q2481 284 2481 276Q2481 264 2476 264H2467Z"/>
<path stroke-width="3" d="M2467 152V264"/>
<path d="M2282 314H2433V302Q2434 300 2437 300L2459 307H2474Q2481 307 2481 315V332Q2481 341 2472 341Q2465 341 2465 325H2291V335Q2291 341 2282 341H2275Q2265 341 2265 332V310Q2265 300 2275 300H2278Q2282 300 2282 314Z"/>
<path d="M2281 370Q2278 364 2284 364H2296Q2300 364 2300 370V380H2343V392Q2343 397 2338 397H2295Q2289 397 2285 390L2279 375Z"/>
<rect x="2489.5" y="364" width="23.5" height="33" rx="6"/>
<path stroke-width="1.2" d="M2240 246H2250Q2256 246 2256 252V280H2253Q2250 280 2249 276L2240 250Z"/>
<rect x="2423" y="247" width="12" height="34" rx="5" stroke-width="1.2"/>
</g>
<g transform="translate(2513,103)"><rect width="165" height="13" fill="url(#v13)"/></g>
<g transform="translate(2531,139)"><rect width="156" height="33" fill="url(#v13)"/></g>
<g transform="translate(2531,195)"><rect width="156" height="34" fill="url(#v13)"/></g>
<g transform="translate(2531,251)"><rect width="156" height="34" fill="url(#v13)"/></g>
<g transform="translate(2531,307)"><rect width="156" height="34" fill="url(#v13)"/></g>
<g transform="translate(2468,156)"><rect width="14" height="105" fill="url(#h10)"/></g>
<g transform="translate(2258,247)"><rect width="160" height="34" fill="url(#v9)"/></g>
<g transform="translate(2291,300)"><rect width="140" height="14" fill="url(#v9)"/></g>
<g transform="translate(2292,325)"><rect width="172" height="16" fill="url(#v9)"/></g>
<g transform="translate(2302,364)"><rect width="41" height="16" fill="url(#v9)"/></g>
<g transform="translate(2345,364)"><rect width="144" height="33" fill="url(#v9)"/></g>
<g transform="translate(2515,364)"><rect width="65" height="33" fill="url(#v9)"/></g>
<path fill="none" stroke="#222" stroke-width="1" d="M2526 156.4H2691M2526 212H2691M2526 268H2691M2526 324H2691M2256 264H2423M2343 380H2595M2254 126H2420"/>
<!-- site building -->
<rect x="2243" y="136" width="190" height="91" rx="10" fill="url(#stp)" stroke="#111" stroke-width="1"/>
<rect x="2247" y="141" width="77" height="71" fill="#fff" stroke="#222"/>
<path stroke="#333" d="M2283.5 141V212M2303 141V212"/>
<rect x="2339" y="141" width="83" height="73" fill="#fff"/>
<rect x="2339" y="141" width="83" height="73" fill="url(#hat)" stroke="#222"/>
<rect x="2247" y="214" width="77" height="9" fill="#fff" stroke="#444"/><rect x="2339" y="216" width="83" height="9" fill="#fff" stroke="#444"/>
<path fill="none" stroke="#222" d="M2254 126V134H2403V126M2272 126V134M2291 126V134M2310 126V134M2328 126V134M2347 126V134M2365 126V134M2384 126V134M2232 148H2241V185H2232ZM2232 167H2241M2229 148V214M2423 166H2434V210H2423ZM2423 166L2434 210M2434 166L2423 210"/>
<rect x="2265" y="247" width="8" height="16" fill="url(#hat)" stroke="#222"/>
<path fill="none" stroke="#111" d="M2370 215L2394 289H2405"/>
<rect x="2352" y="163" width="62" height="27" fill="#fff" opacity=".4"/>
<text class="g" x="2304" y="92" textLength="55" lengthAdjust="spacingAndGlyphs">BECK RD</text>
<text class="l" x="2383" y="171" textLength="66" lengthAdjust="spacingAndGlyphs">PROPOSED</text>
<text class="l" x="2376" y="183" textLength="58" lengthAdjust="spacingAndGlyphs">RETAIL 'B'</text>
<text class="l" transform="rotate(-90 2190 307)" x="2190" y="307" textLength="82" lengthAdjust="spacingAndGlyphs">MICHIGAN AVE</text>
<text class="s" style="font-size:12.5px" x="2406" y="290" textLength="112" lengthAdjust="spacingAndGlyphs">AREA OF WORK</text>
<text style="font-size:24px;text-anchor:start" x="2276" y="449" textLength="329" lengthAdjust="spacingAndGlyphs">BUILDING 'B' SITE PLAN</text>
<path stroke="#111" stroke-width="2" d="M2276 461H2670"/>
<text class="s" x="2276" y="469" textLength="116" lengthAdjust="spacingAndGlyphs">SCALE: 1" = 100'</text>
<g transform="translate(2637.6,461)" fill="none" stroke="#111" stroke-width="1.2">
<circle r="27"/><path d="M-27 0H32M0 -30V30"/><path fill="#666" d="M0 -27L28 0L4 -10ZM0 27L28 0L4 10Z"/>
</g>
<text class="g" x="2636" y="498">NORTH</text>
</g>

<!-- WALL LEGEND -->
<g transform="translate(2178,579)"><rect width="7" height="646" fill="url(#bl)"/></g>
<g transform="translate(2689,579)"><rect width="7" height="646" fill="url(#br)"/></g>
<g transform="translate(2184,573)"><rect width="505" height="6" fill="url(#bt)"/></g>
<g transform="translate(2184,1226)"><rect width="505" height="6" fill="url(#bb)"/></g>
<text class="t" x="2204" y="604" textLength="172" lengthAdjust="spacingAndGlyphs">WALL LEGEND:</text>
<path stroke="#111" stroke-width="3" d="M2204 617H2669"/>
<path stroke="#222" stroke-width="1" d="M2204 938H2669M2204 1212H2669M2227.5 625V690M2257 651V689M2227.5 950V1010M2257 979V1014"/>
<rect x="2222" y="663.5" width="71" height="8" fill="url(#brk)" stroke="#111"/><rect x="2222" y="671.5" width="71" height="12" fill="url(#cmu)" stroke="#111"/>
<rect x="2222" y="991" width="71" height="11" fill="url(#stp)" stroke="#111"/>
<path fill="#fff" stroke="#111" d="M2257 629L2269 640L2257 651L2245 640ZM2257 957.5L2269 968.5L2257 979.5L2245 968.5Z"/>
<text class="g" x="2257" y="640">M</text><text class="g" x="2257" y="968.5">G</text>
<text class="g" transform="rotate(-90 2221 635)" x="2221" y="635">1'-1"</text><text class="g" transform="rotate(-90 2221 973)" x="2221" y="973">7 1/4"</text>
<g fill="#222"><circle cx="2224" cy="702" r="2"/><circle cx="2224" cy="732" r="2"/><circle cx="2224" cy="792" r="2"/><circle cx="2224" cy="806" r="2"/><circle cx="2224" cy="821" r="2"/><circle cx="2224" cy="836" r="2"/><circle cx="2224" cy="851" r="2"/><circle cx="2224" cy="1033" r="2"/></g>
<text class="n" x="2234" y="702" textLength="436" lengthAdjust="spacingAndGlyphs">4"  EVY RESIDENCE ,VINTAGE BLACK SMOOTH COLOR BRICK VENEER, /</text>
<text class="n" x="2234" y="717" textLength="429" lengthAdjust="spacingAndGlyphs">4" GRAND BLANC BURNISHED BOURBON COLOR CMU VENEER 3'-4" AFF</text>
<text class="n" x="2234" y="732" textLength="413" lengthAdjust="spacingAndGlyphs">1-3/4" AIR SPACE PROVIDE BACK TIES @ 24" O.C. HORIZONTAL AND 16" O.C.</text>
<text class="n" x="2234" y="747" textLength="428" lengthAdjust="spacingAndGlyphs">VERTICAL SPACING. PROVIDE CMU HORIZONTAL LADDER TYPE REINFORCEMENT</text>
<text class="n" x="2234" y="761" textLength="437" lengthAdjust="spacingAndGlyphs">WITH CROSS WIRES @ 16" O.C. LADDER REINFORCEMENT TO BE 16" O.C. VERTICAL</text>
<text class="n" x="2234" y="776.5" textLength="117" lengthAdjust="spacingAndGlyphs">(EVERY (2) COURSES).</text>
<text class="n" x="2234" y="792" textLength="202" lengthAdjust="spacingAndGlyphs">8" C.M.U. WALL U/906 2HR RATED</text>
<text class="n" x="2234" y="806" textLength="388" lengthAdjust="spacingAndGlyphs">2" METAL STUD @2'-0" O.C. W. 2" RIGID XPS INSULATION BOARD</text>
<text class="n" x="2234" y="821" textLength="107" lengthAdjust="spacingAndGlyphs">5/8" GYP. BOARD</text>
<text class="n" x="2234" y="836" textLength="386" lengthAdjust="spacingAndGlyphs">REFER TO BUILDING ELEVATION FOR COURSING AND MATERIAL.</text>
<text class="n" x="2234" y="851" textLength="409" lengthAdjust="spacingAndGlyphs">REINFORCEMENT: #5 VERTICAL @ 32" O.C. FILLED SOLID W/CEMENT</text>
<text class="n" x="2234" y="866" textLength="379" lengthAdjust="spacingAndGlyphs">GROUT .DOWELS TO BE 2'-0" INTO FOOTING AND 3'-0" ABOVE.</text>
<text class="n" x="2230" y="1033" textLength="365" lengthAdjust="spacingAndGlyphs">FUTURE WALL: AT THE TIME  OF TENANT BUILD-OUT,</text>
<text class="n" x="2230" y="1048" textLength="369" lengthAdjust="spacingAndGlyphs">ARCHITECT OF RECORD AND TENANT/CONTRACTOR</text>
<text class="n" x="2230" y="1062" textLength="345" lengthAdjust="spacingAndGlyphs">SHALL SUBMIT PLANS FOR REVIEW WITH HOURLY</text>
<text class="n" x="2230" y="1077" textLength="366" lengthAdjust="spacingAndGlyphs">RATED WALL AND ASSOCIATED UL DESIGN NUMBER</text>
<text class="n" x="2230" y="1091" textLength="353" lengthAdjust="spacingAndGlyphs">FOR CODE COMPLIANT WALL CONSTRUCTION PER</text>
<text class="n" x="2230" y="1106" textLength="359" lengthAdjust="spacingAndGlyphs">REQUIRED HOURLY SEPARATION FOR SEPARATION</text>
<text class="n" x="2230" y="1121.5" textLength="188" lengthAdjust="spacingAndGlyphs">OF USES (NON-SPRINKLED)</text>

<!-- WALL LEGEND NOTES -->
<text class="t" x="2204" y="1293" textLength="256" lengthAdjust="spacingAndGlyphs">WALL LEGEND NOTES:</text>
<path stroke="#111" stroke-width="3" d="M2204 1307H2660"/>
<g>
<text class="n" x="2204" y="1322">1.</text><text class="n" x="2221" y="1322" textLength="438" lengthAdjust="spacingAndGlyphs">PROVIDE 9 GA. LADDER TYPE  HORIZONTAL JOINT REINFORCEMENT</text>
<text class="n" x="2221" y="1337" textLength="431" lengthAdjust="spacingAndGlyphs">WITH CROSS WIRES  @ 16" O.C. SPACED VERTICALLY FOR ALL CMU</text>
<text class="n" x="2221" y="1352" textLength="45" lengthAdjust="spacingAndGlyphs">WALLS.</text>
<text class="n" x="2204" y="1370">2.</text><text class="n" x="2221" y="1370" textLength="435" lengthAdjust="spacingAndGlyphs">PROVIDE 9 GA LADDER TYPE  HORIZONTAL JOINT REINFORCEMENT</text>
<text class="n" x="2221" y="1384" textLength="420" lengthAdjust="spacingAndGlyphs">WITH CROSS WIRES @ 16" O.C. WITH ADJUSTABLE VENEER TIES AT</text>
<text class="n" x="2221" y="1399" textLength="409" lengthAdjust="spacingAndGlyphs">16" O.C. STAGGERED FOR ALL CMU WITH BRICK VENEER WALLS.</text>
<text class="n" x="2204" y="1417">3.</text><text class="n" x="2221" y="1417" textLength="422" lengthAdjust="spacingAndGlyphs">PROVIDE STONE ANCHORS AT TOP AND SIDES FOR EVERY PIECE</text>
<text class="n" x="2221" y="1431" textLength="197" lengthAdjust="spacingAndGlyphs">AND PER STONE FABRICATOR.</text>
<text class="n" x="2204" y="1450">4.</text><text class="n" x="2221" y="1450" textLength="434" lengthAdjust="spacingAndGlyphs">WEEP HOLES:  PROVIDE ONE PIECE SINGLE-PLY FLASHING (MINIMUM</text>
<text class="n" x="2221" y="1466" textLength="376" lengthAdjust="spacingAndGlyphs">OF 1 CMU COURSE WITH END DAMS) AND ONE PIECE METAL</text>
<text class="n" x="2221" y="1481" textLength="419" lengthAdjust="spacingAndGlyphs">FLASHING WITH HEMMED DRIP EDGE.  PROVIDE PARTIALLY OPEN</text>
<text class="n" x="2221" y="1496" textLength="431" lengthAdjust="spacingAndGlyphs">HEAD JOINT WEEP HOLES @ 24" O.C. MINIMUM OF TWO HOLES OVER</text>
<text class="n" x="2221" y="1510" textLength="435" lengthAdjust="spacingAndGlyphs">WINDOWS AND DOORS.  GROUT AIR SPACE SOLID UNDER FLASHING.</text>
<text class="n" x="2221" y="1525" textLength="359" lengthAdjust="spacingAndGlyphs">PROVIDE WASHED PEA STONE FOR PROPER DRAINAGE.</text>
<text class="n" x="2204" y="1543">5.</text><text class="n" x="2221" y="1543" textLength="402" lengthAdjust="spacingAndGlyphs">EXTEND ALL WALLS TO UNDER SIDE OF FLOOR / ROOF METAL</text>
<text class="n" x="2221" y="1557" textLength="413" lengthAdjust="spacingAndGlyphs">DECK FOR SMOKE TIGHT CONSTRUCTION.  CLOSE ALL OPENINGS</text>
<text class="n" x="2221" y="1572" textLength="395" lengthAdjust="spacingAndGlyphs">WITH GROUT MATERIAL TO MEET CODE REQUIREMENTS FOR A</text>
<text class="n" x="2221" y="1586.5" textLength="407" lengthAdjust="spacingAndGlyphs">SMOKE TIGHT CONSTRUCTION OR FIRE RATE CONSTRUCTION AS</text>
<text class="n" x="2221" y="1601" textLength="430" lengthAdjust="spacingAndGlyphs">INDICATED.  SEE PLANS FOR LOCATIONS OF SMOKE / FIRE WALLS.</text>
<text class="n" x="2204" y="1618.5">6.</text><text class="n" x="2221" y="1618.5" textLength="388" lengthAdjust="spacingAndGlyphs">GROUT ALL CMU WALLS SOLID AT RE-BARS AND FIRST TWO</text>
<text class="n" x="2221" y="1633.5" textLength="415" lengthAdjust="spacingAndGlyphs">COURSES   OVER EXISTING MASONRY OR FOUNDATIONS.  DOWEL</text>
<text class="n" x="2221" y="1648" textLength="172" lengthAdjust="spacingAndGlyphs">INTO EXISTING   MASONRY.</text>
<text class="n" x="2204" y="1666">7.</text><text class="n" x="2221" y="1666" textLength="437" lengthAdjust="spacingAndGlyphs">PROVIDE A MASONRY CONTROL / EXPANSION JOINTS FOR ALL NEW</text>
<text class="n" x="2221" y="1680" textLength="398" lengthAdjust="spacingAndGlyphs">WALLS OVER 20'-0" IN RUN OR MORE.  MAXIMUM SPACING OF</text>
<text class="n" x="2221" y="1695" textLength="40" lengthAdjust="spacingAndGlyphs">25'-0"</text>
<text class="n" x="2204" y="1714">8.</text><text class="n" x="2221" y="1714" textLength="405" lengthAdjust="spacingAndGlyphs">PROVIDE CONTINUOUS 8"/12" BOND BEAM (B.B.) W/ (2) #5 BARS.</text>
<text class="n" x="2221" y="1729" textLength="405" lengthAdjust="spacingAndGlyphs">VERTICAL WALL BARS TO CONTINUE THRU B.B. &amp; HOOK TO B.B.</text>
<text class="n" x="2221" y="1743" textLength="419" lengthAdjust="spacingAndGlyphs">STEEL FOR UPLIFT CONTINUITY.  GROUT ONE COURSE ABOVE AND</text>
<text class="n" x="2221" y="1758" textLength="413" lengthAdjust="spacingAndGlyphs">ONE BELOW B.B. PROVIDE METAL LATH OR WIRE SCREEN UNDER</text>
<text class="n" x="2221" y="1773" textLength="375" lengthAdjust="spacingAndGlyphs">B.B. TO CONFINE GROUT.  LAPPED B.B. MINIMUM OF 48" TO</text>
<text class="n" x="2221" y="1787" textLength="429" lengthAdjust="spacingAndGlyphs">ACCOMMODATE ELEVATION CHANGES FOR THE CORRIDOR WALLS.</text>
<text class="n" x="2204" y="1804.5">9.</text><text class="n" x="2221" y="1804.5" textLength="411" lengthAdjust="spacingAndGlyphs">REFER TO BUILDING ELEVATIONS AND SECTIONS FOR COURSING</text>
<text class="n" x="2221" y="1819" textLength="155" lengthAdjust="spacingAndGlyphs">AND OTHER MATERIALS.</text>
</g>
</svg>
</body></html>
